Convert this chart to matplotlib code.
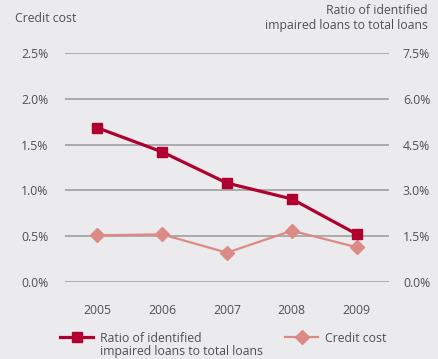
import numpy as np
import matplotlib.pyplot as plt
from matplotlib.ticker import FuncFormatter

years = [2005, 2006, 2007, 2008, 2009]
# ratio of identified impaired loans to total loans, % (right axis)
impaired_ratio = [5.05, 4.26, 3.24, 2.72, 1.57]
# credit cost, % (left axis)
credit_cost = [0.51, 0.52, 0.32, 0.56, 0.38]

left_ticks = [0.0, 0.5, 1.0, 1.5, 2.0, 2.5]
right_ticks = [0.0, 1.5, 3.0, 4.5, 6.0, 7.5]

bg = '#ebebed'
red = '#b0002f'
pink = '#db8a85'
txt = '#505050'
fs = 8.8

plt.rcParams['font.family'] = ['Open Sans', 'DejaVu Sans']
plt.rcParams['font.size'] = fs

W, H = 438, 359
fig = plt.figure(figsize=(W / 100, H / 100), dpi=100, facecolor=bg)
ax = fig.add_axes([65/W, 1 - 282/H, 324/W, 229/H])
ax.set_facecolor(bg)
ax2 = ax.twinx()

ax.set_xlim(2004.5, 2009.5)
ax.set_ylim(0, 2.5)
ax2.set_ylim(0, 7.5)
ax.set_yticks(left_ticks)
ax2.set_yticks(right_ticks)
ax.set_xticks(years)
pct = FuncFormatter(lambda v, p: '%.1f%%' % v)
ax.yaxis.set_major_formatter(pct)
ax2.yaxis.set_major_formatter(pct)

for a in (ax, ax2):
    for s in a.spines.values():
        s.set_visible(False)
    a.tick_params(length=0, colors=txt, labelsize=fs)
ax.tick_params(axis='y', pad=12)
ax2.tick_params(axis='y', pad=10)
ax.tick_params(axis='x', pad=16)
ax.grid(axis='y', color='#9a9a9a', linewidth=1.1)
ax.set_axisbelow(True)

l2, = ax.plot(years, credit_cost, color=pink, linewidth=1.6, marker='D',
              markersize=7.5, label='Credit cost', zorder=3)
l1, = ax2.plot(years, impaired_ratio, color=red, linewidth=2.3, marker='s',
               markersize=7.8, label='Ratio of identified', zorder=4)

fig.text(15/W, 1 - 18/H, 'Credit cost', color=txt, fontsize=fs, va='center')
fig.text(428/W, 1 - 18/H, 'Ratio of identified\nimpaired loans to total loans',
         color=txt, fontsize=fs, va='center', ha='right', linespacing=1.1)

# legend: handles sit on the first line of the labels
leg = fig.legend([l1, l2], [l1.get_label(), l2.get_label()], ncol=2,
                 loc='center left', bbox_to_anchor=(60/W, 1 - 338/H),
                 frameon=False, borderpad=0, borderaxespad=0,
                 handlelength=2.7, columnspacing=6.8,
                 handletextpad=0.6, labelcolor=txt, fontsize=fs)
fig.canvas.draw()
bb = leg.get_texts()[0].get_window_extent().transformed(fig.transFigure.inverted())
fig.text(bb.x0, 1 - 352/H, 'impaired loans to total loans', color=txt,
         fontsize=fs, va='center')

fig.savefig('out.png', dpi=100, facecolor=bg)
